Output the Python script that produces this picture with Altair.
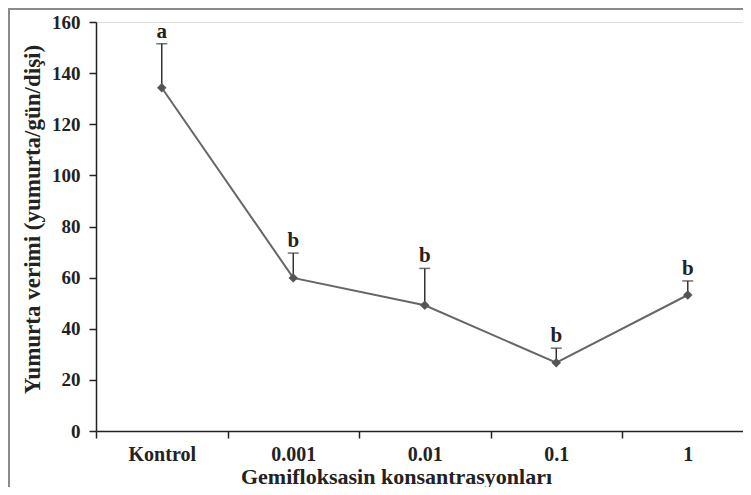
import altair as alt
import pandas as pd

categories = ["Kontrol", "0.001", "0.01", "0.1", "1"]
means = [134.3, 59.9, 49.2, 26.7, 53.2]
upper = [151.5, 69.6, 63.6, 32.4, 58.7]
letters = ["a", "b", "b", "b", "b"]
y_ticks = [0, 20, 40, 60, 80, 100, 120, 140, 160]

df = pd.DataFrame({
    "idx": list(range(len(categories))),
    "cat": categories,
    "mean": means,
    "upper": upper,
    "letter": letters,
})

FONT = "Liberation Serif"
W, H = 647, 409

label_expr = " : ".join(
    [f"datum.value == {i - 0.5} ? '{c}'" for i, c in enumerate(categories)]
) + " : ''"

x_enc = alt.X(
    "idx:Q",
    scale=alt.Scale(domain=[-0.5, 4.42], nice=False, zero=False),
    axis=alt.Axis(
        values=[i - 0.5 for i in range(len(categories))],
        labelExpr=label_expr,
        labelOffset=65.75,
        labelAlign="center",
        labelFont=FONT, labelFontSize=20, labelFontWeight="bold", labelColor="#222",
        labelPadding=6, tickSize=7, tickColor="#222", domainColor="#222",
        domainWidth=1.5, tickWidth=1.5, grid=False,
        title="Gemifloksasin konsantrasyonları",
        titleFont=FONT, titleFontSize=22, titleFontWeight="bold", titleColor="#222",
        titleBaseline="alphabetic", titleY=52, titleX=300,
    ),
)
y_enc = alt.Y(
    "mean:Q",
    scale=alt.Scale(domain=[0, 160], nice=False),
    axis=alt.Axis(
        values=y_ticks,
        labelFont=FONT, labelFontSize=19, labelFontWeight="bold", labelColor="#222",
        labelPadding=9, tickSize=7, tickColor="#222", domainColor="#222",
        domainWidth=1.5, tickWidth=1.5, grid=False,
        title="Yumurta verimi (yumurta/gün/dişi)",
        titleFont=FONT, titleFontSize=23, titleFontWeight="bold", titleColor="#222",
        titlePadding=7, titleY=197,
    ),
)

base = alt.Chart(df)

line = base.mark_line(color="#666", strokeWidth=2).encode(x=x_enc, y=y_enc)
err = base.mark_rule(color="#333", strokeWidth=1.5).encode(x="idx:Q", y="mean:Q", y2="upper:Q")
cap = base.mark_tick(color="#333", orient="horizontal", size=11, thickness=1.5).encode(x="idx:Q", y="upper:Q")
pts = base.mark_point(shape="diamond", filled=True, size=90, color="#555", opacity=1).encode(x="idx:Q", y="mean:Q")
txt = base.mark_text(font=FONT, fontSize=21, fontWeight="bold", color="#222", baseline="bottom", dy=-2).encode(
    x="idx:Q", y="upper:Q", text="letter:N")

border_left = alt.Chart(df).mark_rule(color="#8a8a8a", strokeWidth=2).encode(
    x=alt.value(-87), y=alt.value(-13), y2=alt.value(470))
border_top = alt.Chart(df).mark_rule(color="#8a8a8a", strokeWidth=2).encode(
    x=alt.value(-88), x2=alt.value(W), y=alt.value(-13))

chart = alt.layer(line, err, cap, pts, txt, border_left, border_top).properties(
    width=W, height=H,
    autosize=alt.AutoSizeParams(type="none"),
    padding={"left": 88, "top": 14, "right": 0, "bottom": 56},
).configure_view(stroke=None).configure(background="white")

chart.save("out.html", embed_options={"renderer": "svg", "actions": False})
